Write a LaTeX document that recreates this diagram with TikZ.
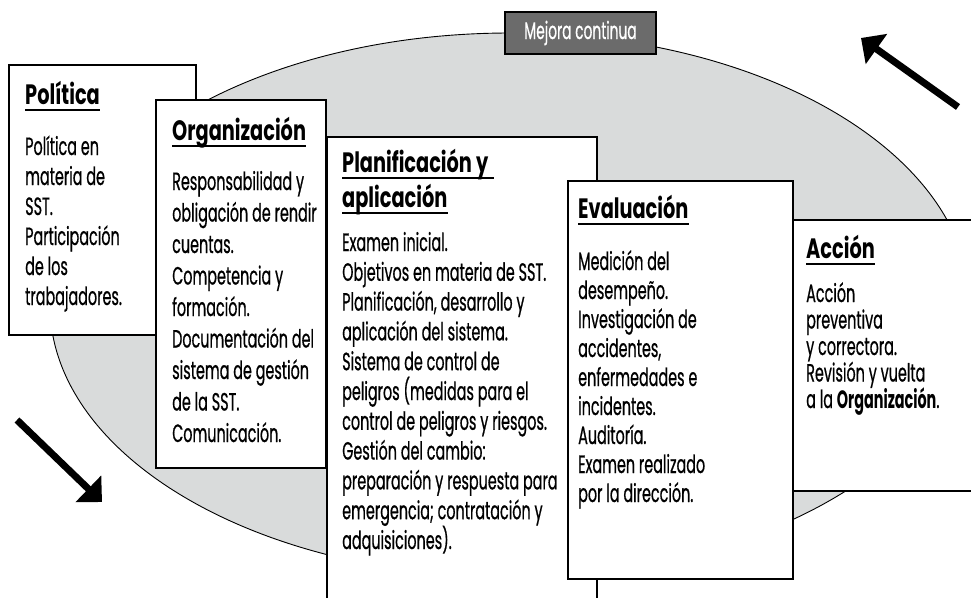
\documentclass[tikz,border=0pt]{standalone}
\usepackage{fontspec}
\setmainfont{Poppins}[FakeStretch=0.575, UprightFeatures={FakeBold=0.6}]
\newfontfamily\titlefont{Poppins}[FakeStretch=0.69]
\usetikzlibrary{arrows.meta}
\definecolor{ellfill}{HTML}{D9DBDB}
\definecolor{tagfill}{HTML}{6B6B6B}
\tikzset{
  panel/.style={draw=black, fill=white, line width=1.8pt, anchor=north west, inner sep=0pt},
  ttl/.style={font=\titlefont\bfseries\fontsize{28}{32}\selectfont, anchor=base west, inner sep=0pt},
  bodytxt/.style={font=\fontsize{25}{29}\selectfont, anchor=base west, inner sep=0pt},
  uline/.style={line width=2.2pt},
  bigarrow/.style={line width=7pt, -{Triangle[length=19pt,width=36pt]}},
  tag/.style={draw=black, fill=tagfill, line width=1.2pt, text=white, inner sep=0pt,
    font=\fontsize{24}{28}\selectfont},
}
\begin{document}
\begin{tikzpicture}[x=1pt,y=-1pt]
\path[use as bounding box] (0,0) rectangle (971,597);
\clip (0,0) rectangle (971,597);
% cycle ellipse
\draw[line width=0.9pt, fill=ellfill] (510,305) ellipse [x radius=460pt, y radius=272pt];
\node[tag, minimum width=151pt, minimum height=42pt] (mejora) at (580.5,33) {Mejora continua};
% panels
\node[panel, minimum width=187pt, minimum height=270pt] (pol) at (8,64) {};
\node[panel, minimum width=170pt, minimum height=368pt] (org) at (155,99) {};
\node[panel, minimum width=270pt, minimum height=500pt] (plan) at (326,136) {};
\node[panel, minimum width=225pt, minimum height=398pt] (eval) at (567,180) {};
\node[panel, minimum width=250pt, minimum height=271pt] (acc) at (792,219) {};
% Politica
\node[ttl] (polT) at (25,104) {Política};
\draw[uline] ([yshift=-6pt]polT.base west) -- ([yshift=-6pt]polT.base east);
\foreach \t [count=\i from 0] in {Política en, materia de, SST., Participación, de los, trabajadores.}
  \node[bodytxt] (pol-\i) at (25,155+30*\i) {\t};
% Organizacion
\node[ttl] (orgT) at (172,140) {Organización};
\draw[uline] ([yshift=-6pt]orgT.base west) -- ([yshift=-6pt]orgT.base east);
\foreach \t [count=\i from 0] in {Responsabilidad y, obligación de rendir, cuentas., Competencia y, formación., Documentación del, sistema de gestión, de la SST., Comunicación.}
  \node[bodytxt] (org-\i) at (172,190+31.5*\i) {\t};
% Planificacion
\node[ttl] (planT1) at (342,172) {Planificación y};
\node[ttl] (planT2) at (342,207) {aplicación};
\draw[uline] ([yshift=-6pt]planT1.base west) -- ([yshift=-6pt,xshift=6pt]planT1.base east);
\draw[uline] ([yshift=-6pt]planT2.base west) -- ([yshift=-6pt]planT2.base east);
\foreach \t [count=\i from 0] in {Examen inicial., Objetivos en materia de SST., {Planificación, desarrollo y}, aplicación del sistema., Sistema de control de, peligros (medidas para el, control de peligros y riesgos., Gestión del cambio:, preparación y respuesta para, emergencia; contratación y, adquisiciones).}
  \node[bodytxt] (plan-\i) at (342,251+29.8*\i) {\t};
% Evaluacion
\node[ttl] (evalT) at (578,218) {Evaluación};
\draw[uline] ([yshift=-6pt]evalT.base west) -- ([yshift=-6pt]evalT.base east);
\foreach \t [count=\i from 0] in {Medición del, desempeño., Investigación de, {accidentes,}, enfermedades e, incidentes., Auditoría., Examen realizado, por la dirección.}
  \node[bodytxt] (eval-\i) at (578,270+29*\i) {\t};
% Accion
\node[ttl] (accT) at (806,258) {Acción};
\draw[uline] ([yshift=-6pt]accT.base west) -- ([yshift=-6pt]accT.base east);
\foreach \t [count=\i from 0] in {Acción, preventiva, y correctora., Revisión y vuelta, {a la \textbf{Organización}.}}
  \node[bodytxt] (acc-\i) at (806,302+26.5*\i) {\t};
% arrows
\coordinate (a1s) at (958,107);
\coordinate (a1e) at (861,38);
\draw[bigarrow] (a1s) -- (a1e);
\coordinate (a2s) at (17,420);
\coordinate (a2e) at (102,502);
\draw[bigarrow] (a2s) -- (a2e);
\end{tikzpicture}
\end{document}
